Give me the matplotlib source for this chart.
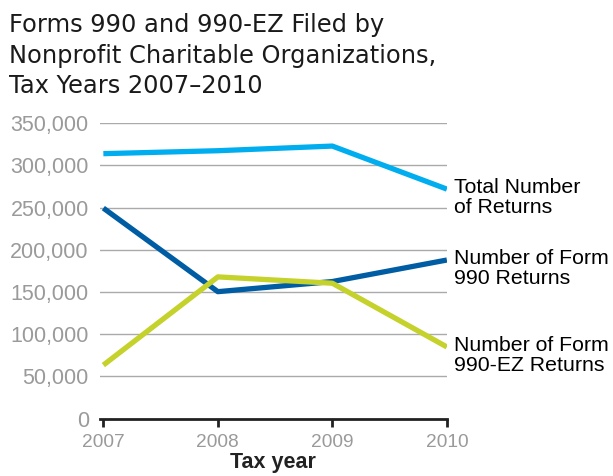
import matplotlib.pyplot as plt
from matplotlib.ticker import FuncFormatter

# data
years = [2007, 2008, 2009, 2010]
total_returns = [314000, 317500, 323000, 272000]
form990_returns = [249500, 150500, 162500, 188000]
form990ez_returns = [63500, 168000, 160500, 85000]

series_labels = ["Total Number\nof Returns", "Number of Form\n990 Returns", "Number of Form\n990-EZ Returns"]
series_colors = ["#00aeef", "#005da4", "#c4d22b"]

fig = plt.figure(figsize=(6.13, 4.76), dpi=100)
ax = fig.add_axes([0.163, 0.1204, 0.566, 0.6206])

for vals, col, lab in zip([total_returns, form990_returns, form990ez_returns], series_colors, series_labels):
    ax.plot(years, vals, color=col, lw=3.8, solid_capstyle="butt", zorder=3)
    ax.annotate(lab, xy=(years[-1], vals[-1]), xytext=(5, -6), textcoords="offset points",
                va="center", ha="left", fontsize=15.3, family="Liberation Sans",
                linespacing=1.1, annotation_clip=False)

ax.set_xlim(2006.97, 2010)
ax.set_ylim(0, 350000)
ax.set_yticks(range(0, 350001, 50000))
ax.yaxis.set_major_formatter(FuncFormatter(lambda v, p: f"{int(v):,}"))
ax.set_xticks(years)
ax.grid(axis="y", color="#aaaaaa", lw=1)
ax.set_axisbelow(True)

for s in ["top", "right", "left"]:
    ax.spines[s].set_visible(False)
ax.spines["bottom"].set_color("#222222")
ax.spines["bottom"].set_linewidth(2)
ax.spines["bottom"].set_zorder(4)

ax.tick_params(axis="y", length=0, pad=8, labelsize=15.5, labelcolor="#9a9a9a")
ax.tick_params(axis="x", length=6, width=2, color="#222222", pad=5, labelsize=13.8, labelcolor="#9a9a9a")
for t in ax.get_xticklabels() + ax.get_yticklabels():
    t.set_family("Liberation Sans")

ax.set_xlabel("Tax year", fontsize=15.5, fontweight="bold", family="Liberation Sans", color="#222222", labelpad=1)

fig.text(0.015, 0.972, "Forms 990 and 990-EZ Filed by\nNonprofit Charitable Organizations,\nTax Years 2007\u20132010",
         va="top", ha="left", fontsize=17.4, color="#1a1a1a", linespacing=1.33)

fig.savefig("out.png", dpi=100)
